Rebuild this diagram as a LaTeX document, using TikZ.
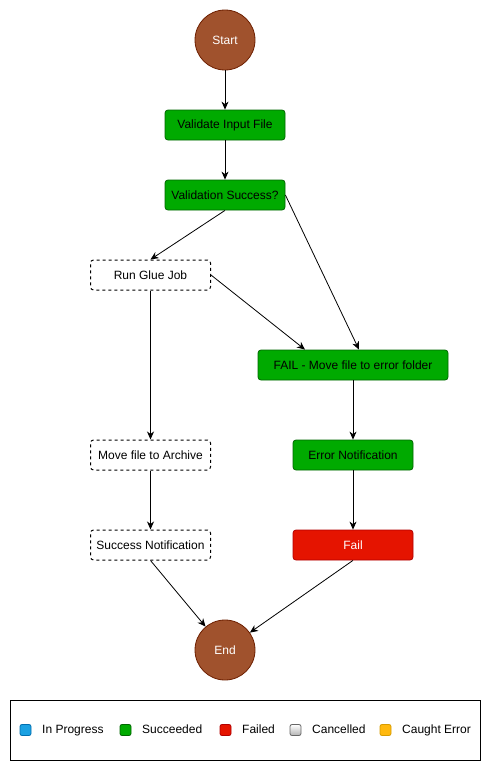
\documentclass[tikz,border=0pt]{standalone}
\usepackage{fontspec}
\setmainfont{Liberation Sans}
\usepackage{tikz}
\usetikzlibrary{arrows.meta,positioning}

\definecolor{termfill}{HTML}{A0522D}
\definecolor{termline}{HTML}{6D1F00}
\definecolor{okfill}{HTML}{00AA00}
\definecolor{okline}{HTML}{006600}
\definecolor{badfill}{HTML}{E51400}
\definecolor{badline}{HTML}{B20000}
\definecolor{progfill}{HTML}{1BA1E2}
\definecolor{progline}{HTML}{006EAF}
\definecolor{cancfill}{HTML}{E0E0E0}
\definecolor{cancline}{HTML}{666666}
\definecolor{caughtfill}{HTML}{FFB90F}
\definecolor{caughtline}{HTML}{D79B00}

\tikzset{
  statebox/.style={rectangle, rounded corners=3pt, minimum width=120pt, minimum height=30pt,
    inner sep=0pt, font=\fontsize{12}{14}\selectfont, line width=0.8pt},
  okstate/.style={statebox, draw=okline, fill=okfill, text=black},
  pendstate/.style={statebox, draw=black, dash pattern=on 3pt off 3pt, line width=1pt, fill=white},
  badstate/.style={statebox, draw=badline, fill=badfill, text=white},
  terminal/.style={circle, minimum size=60pt, inner sep=0pt, draw=termline, fill=termfill,
    text=white, font=\fontsize{12}{14}\selectfont, line width=0.8pt},
  flow/.style={-{Stealth[length=8pt,width=7pt,inset=2.5pt]}, line width=0.8pt},
  keybox/.style={rectangle, rounded corners=2pt, minimum size=11pt, inner sep=0pt, line width=0.8pt},
  keytext/.style={anchor=west, inner sep=0pt, text height=9pt, text depth=3pt,
    font=\fontsize{12}{14}\selectfont}
}

\begin{document}
\begin{tikzpicture}[x=1pt,y=-1pt]
  \useasboundingbox (0,0) rectangle (491,771);

  % start and end
  \node[terminal] (start) at (225,40) {Start};
  \node[terminal] (stop) at (225,650) {End};

  % main column
  \node[okstate] (validate) at (225,125) {Validate Input File};
  \node[okstate] (vsuccess) at (225,195) {Validation Success?};

  % success branch
  \node[pendstate] (gluejob) at (150.5,275) {Run Glue Job};
  \node[pendstate] (archive) at (150.5,455) {Move file to Archive};
  \node[pendstate] (successnote) at (150.5,545) {Success Notification};

  % error branch
  \node[okstate, minimum width=190pt] (failmove) at (353,365) {FAIL - Move file to error folder};
  \node[okstate] (errornote) at (353,455) {Error Notification};
  \node[badstate] (failstate) at (353,545) {Fail};

  % connectors
  \draw[flow] (start) -- (validate);
  \draw[flow] (validate) -- (vsuccess);
  \draw[flow] (vsuccess.south) -- (gluejob.north);
  \draw[flow] (vsuccess.east) -- ([xshift=6pt]failmove.north);
  \draw[flow] (gluejob.east) -- ([xshift=-48pt]failmove.north);
  \draw[flow] (gluejob) -- (archive);
  \draw[flow] (archive) -- (successnote);
  \draw[flow] (failmove) -- (errornote);
  \draw[flow] (errornote) -- (failstate);
  \draw[flow] (successnote.south) -- (stop);
  \draw[flow] (failstate.south) -- (stop);

  % legend
  \node[draw=black, line width=0.8pt, minimum width=470pt, minimum height=60pt, inner sep=0pt] (legend) at (245,730) {};
  \node[keybox, draw=progline, fill=progfill] (kprog) at (25.5,730) {};
  \node[keytext] (tprog) at (42,730) {In Progress};
  \node[keybox, draw=okline, fill=okfill] (kok) at (125.5,730) {};
  \node[keytext] (tok) at (142,730) {Succeeded};
  \node[keybox, draw=badline, fill=badfill] (kbad) at (225.5,730) {};
  \node[keytext] (tbad) at (242,730) {Failed};
  \node[keybox, draw=cancline, top color=white, bottom color=cancfill!80!black] (kcanc) at (295.5,730) {};
  \node[keytext] (tcanc) at (312,730) {Cancelled};
  \node[keybox, draw=caughtline, fill=caughtfill] (kcaught) at (385.5,730) {};
  \node[keytext] (tcaught) at (402,730) {Caught Error};
\end{tikzpicture}
\end{document}
